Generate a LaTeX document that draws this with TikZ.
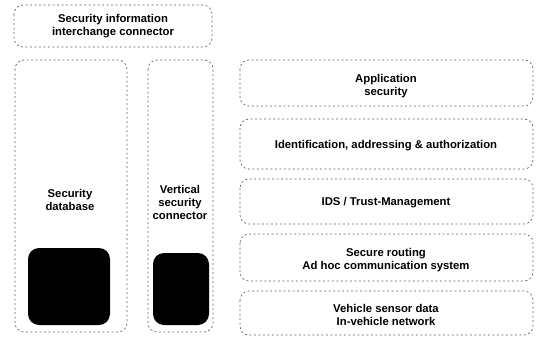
\documentclass[tikz,border=0pt]{standalone}
\usepackage{fontspec}
\setmainfont{Liberation Sans}
\begin{document}
\begin{tikzpicture}[x=1pt,y=-1pt,
  layer/.style={draw=black!60, line width=0.7pt, dash pattern=on 2pt off 2.5pt,
    rounded corners=9pt},
  block/.style={fill=black, rounded corners=11pt},
  lbl/.style={font=\bfseries\fontsize{11.3}{13}\selectfont, align=center, text=black}]
\useasboundingbox (0,0) rectangle (536,338);
% left column: information interchange, database and vertical connector
\draw[layer] (14,5) rectangle (212,47);
\node[lbl] (sii) at (113,26) {Security information\\interchange connector};
\draw[layer] (15,60) rectangle (127,332);
\node[lbl] (sdb) at (70,200) {Security\\database};
\fill[block] (28,248) rectangle (110,325);
\draw[layer] (148,60) rectangle (213,332);
\node[lbl] (vsc) at (180,202) {Vertical\\security\\connector};
\fill[block] (153,253) rectangle (209,325);
% right column: layered stack
\draw[layer] (240,60) rectangle (533,106);
\node[lbl] (app) at (386,86) {Application\\security};
\draw[layer] (240,119) rectangle (533,169);
\node[lbl] (iaa) at (386,146) {Identification, addressing \& authorization};
\draw[layer] (240,179) rectangle (533,224);
\node[lbl] (ids) at (386,203) {IDS / Trust-Management};
\draw[layer] (240,234) rectangle (533,281);
\node[lbl] (srt) at (386,260) {Secure routing\\Ad hoc communication system};
\draw[layer] (240,291) rectangle (533,335);
\node[lbl] (vsd) at (386,315) {Vehicle sensor data\\In-vehicle network};
\end{tikzpicture}
\end{document}
